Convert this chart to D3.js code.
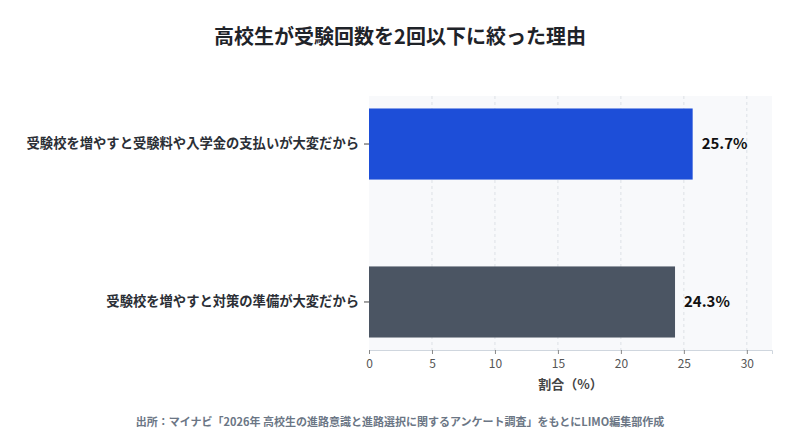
<!DOCTYPE html>
<html>
<head>
<meta charset="utf-8">
<script src="https://cdn.jsdelivr.net/npm/d3@7"></script>
<style>
  body { margin: 0; background: #fff; font-family: "Noto Sans CJK JP", "Noto Sans", sans-serif; }
</style>
</head>
<body>
<div id="chart"></div>
<script>
const categories = ["受験校を増やすと受験料や入学金の支払いが大変だから", "受験校を増やすと対策の準備が大変だから"];
const values = [25.7, 24.3];
const barColors = ["#1d4ed8", "#4b5563"];
const xTicks = [0, 5, 10, 15, 20, 25, 30];

const width = 800, height = 440;
const margin = {top: 96, right: 28, bottom: 90, left: 369};
const innerW = width - margin.left - margin.right,
    innerH = height - margin.top - margin.bottom;

const svg = d3.select("#chart")
    .append("svg")
    .attr("width", width)
    .attr("height", height);

// title
svg.append("text")
    .attr("x", width / 2)
    .attr("y", 44)
    .attr("text-anchor", "middle")
    .style("font-size", "20px")
    .style("font-weight", "700")
    .style("fill", "#1f2329")
    .text("高校生が受験回数を2回以下に絞った理由");

const g = svg.append("g")
    .attr("transform", `translate(${margin.left}, ${margin.top})`);

g.append("rect")
    .attr("width", innerW)
    .attr("height", innerH)
    .style("fill", "#f8f9fb");

const x = d3.scaleLinear()
    .domain([0, 32])
    .range([0, innerW]);

const y = d3.scaleBand()
    .domain(categories)
    .range([0, innerH])
    .paddingInner(0.55)
    .paddingOuter(0.079);

// grid lines
g.selectAll(".grid")
    .data(xTicks.slice(1))
    .join("line")
    .attr("x1", d => x(d))
    .attr("x2", d => x(d))
    .attr("y1", 0)
    .attr("y2", innerH)
    .style("stroke", "#dde1e6")
    .style("stroke-dasharray", "3,3")
    .style("stroke-width", 1);

// bars
g.selectAll(".bar")
    .data(values)
    .join("rect")
    .attr("x", 0)
    .attr("y", (d, i) => y(categories[i]))
    .attr("width", d => x(d))
    .attr("height", y.bandwidth())
    .style("fill", (d, i) => barColors[i]);

// value labels
g.selectAll(".val")
    .data(values)
    .join("text")
    .attr("x", d => x(d) + 9)
    .attr("y", (d, i) => y(categories[i]) + y.bandwidth() / 2)
    .attr("dy", "0.35em")
    .style("font-size", "15px")
    .style("font-weight", "700")
    .style("fill", "#111")
    .text(d => d.toFixed(1) + "%");

// x axis
const xAxis = g.append("g")
    .attr("transform", `translate(0, ${innerH})`)
    .call(d3.axisBottom(x).tickValues(xTicks).tickSize(4).tickPadding(5));
xAxis.select(".domain").style("stroke", "#cfd6de");
xAxis.selectAll(".tick line").style("stroke", "#888");
xAxis.selectAll("text")
    .style("font-size", "12px")
    .style("fill", "#555")
    .style("font-family", "'Noto Sans CJK JP', sans-serif");

// y axis
const yAxis = g.append("g")
    .call(d3.axisLeft(y).tickSize(5).tickPadding(5));
yAxis.select(".domain").remove();
yAxis.selectAll(".tick line").style("stroke", "#444");
yAxis.selectAll("text")
    .style("font-size", "13.3px")
    .style("font-weight", "700")
    .style("fill", "#2b2f36")
    .style("font-family", "'Noto Sans CJK JP', sans-serif");

// axis title
svg.append("text")
    .attr("x", margin.left + innerW / 2)
    .attr("y", 389)
    .attr("text-anchor", "middle")
    .style("font-size", "13px")
    .style("font-weight", "700")
    .style("fill", "#444")
    .text("割合（%）");

// source
svg.append("text")
    .attr("x", width / 2)
    .attr("y", 426)
    .attr("text-anchor", "middle")
    .style("font-size", "11px")
    .style("font-weight", "700")
    .style("fill", "#6b7685")
    .text("出所：マイナビ「2026年 高校生の進路意識と進路選択に関するアンケート調査」をもとにLIMO編集部作成");
</script>
</body>
</html>
